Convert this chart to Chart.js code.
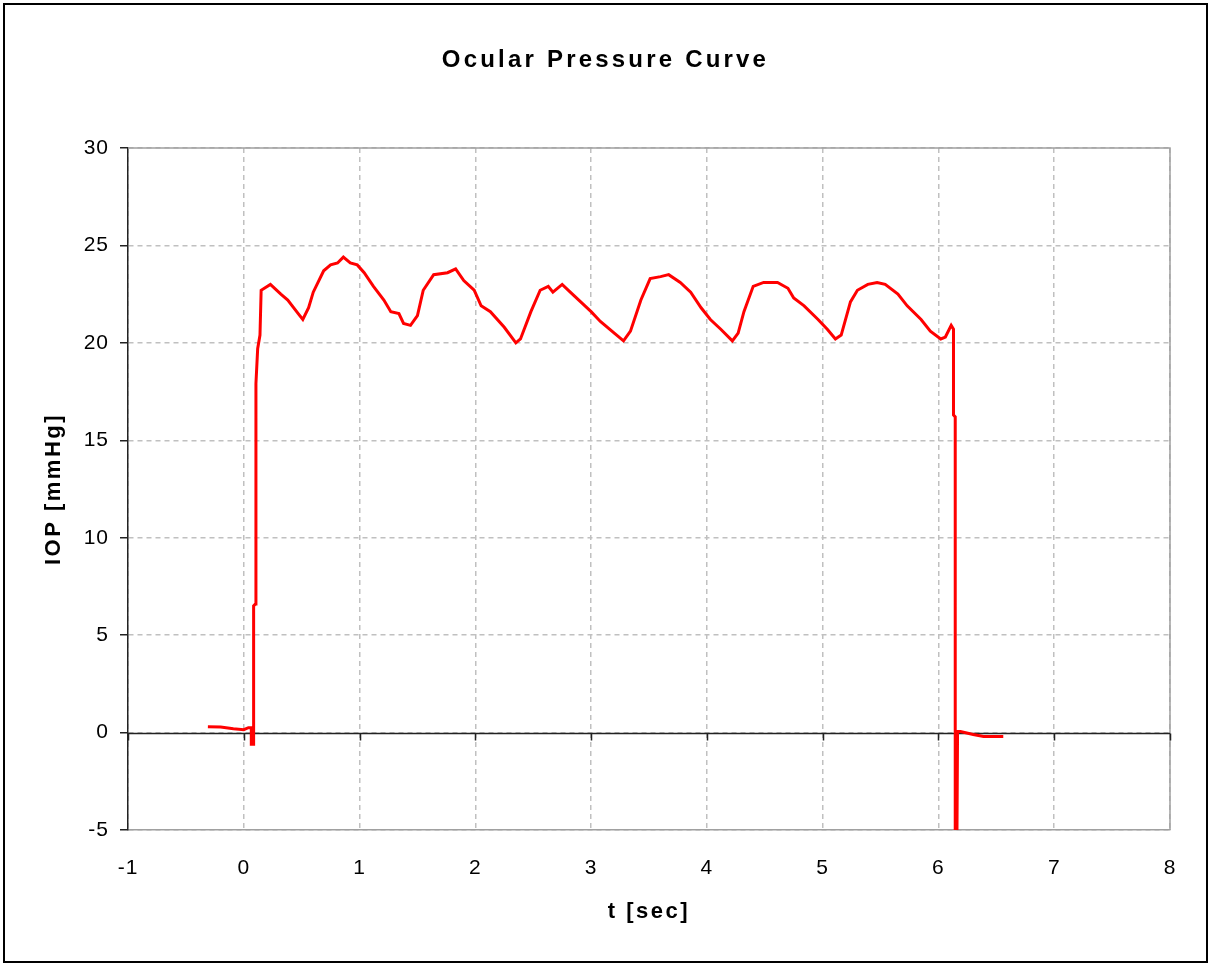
<!DOCTYPE html>
<html>
<head>
<meta charset="utf-8">
<title>Ocular Pressure Curve</title>
<script src="https://cdn.jsdelivr.net/npm/chart.js@4/dist/chart.umd.min.js"></script>
<style>
  body { margin: 0; background: #fff; }
  #iopChart { display: block; }
</style>
</head>
<body>
<canvas id="iopChart" width="1211" height="965"></canvas>
<script>
// IOP trace sampled from the tonometer recording
var timeSec = [
  -0.31, -0.20, -0.09, 0.00, 0.04, 0.065, 0.065, 0.08, 0.085, 0.10,
  0.105, 0.12, 0.14, 0.15, 0.23, 0.32, 0.38, 0.47, 0.51, 0.56,
  0.60, 0.69, 0.75, 0.81, 0.86, 0.92, 0.98, 1.04, 1.12, 1.21,
  1.27, 1.34, 1.38, 1.44, 1.50, 1.55, 1.64, 1.76, 1.83, 1.90,
  1.99, 2.05, 2.13, 2.25, 2.35, 2.39, 2.48, 2.56, 2.63, 2.67,
  2.75, 2.82, 2.91, 3.00, 3.08, 3.20, 3.28, 3.34, 3.43, 3.51,
  3.60, 3.67, 3.77, 3.86, 3.95, 4.03, 4.12, 4.22, 4.27, 4.32,
  4.40, 4.49, 4.61, 4.70, 4.75, 4.84, 4.96, 5.04, 5.11, 5.16,
  5.24, 5.30, 5.39, 5.47, 5.54, 5.65, 5.73, 5.85, 5.93, 6.02,
  6.06, 6.11, 6.13, 6.13, 6.145, 6.145, 6.16, 6.165, 6.19, 6.30,
  6.39, 6.56
];
var iopMmHg = [
  0.3, 0.28, 0.2, 0.15, 0.25, 0.25, -0.6, -0.6, 6.5, 6.6,
  17.9, 19.7, 20.4, 22.7, 23.0, 22.5, 22.2, 21.5, 21.2, 21.8,
  22.6, 23.7, 24.0, 24.1, 24.4, 24.1, 24.0, 23.6, 22.9, 22.2,
  21.6, 21.5, 21.0, 20.9, 21.4, 22.7, 23.5, 23.6, 23.8, 23.2,
  22.7, 21.9, 21.6, 20.8, 20.0, 20.2, 21.6, 22.7, 22.9, 22.6,
  23.0, 22.6, 22.1, 21.6, 21.1, 20.5, 20.1, 20.6, 22.2, 23.3,
  23.4, 23.5, 23.1, 22.6, 21.8, 21.2, 20.7, 20.1, 20.5, 21.6,
  22.9, 23.1, 23.1, 22.8, 22.3, 21.9, 21.2, 20.7, 20.2, 20.4,
  22.1, 22.7, 23.0, 23.1, 23.0, 22.5, 21.9, 21.2, 20.6, 20.2,
  20.3, 20.9, 20.7, 16.3, 16.2, -5, -5, 0.05, 0.05, -0.1,
  -0.2, -0.2
];

var xMin = -1, xMax = 8, xStep = 1;
var yMin = -5, yMax = 30, yStep = 5;

var points = timeSec.map(function(t, i) {
  return { x: t, y: iopMmHg[i] };
});

var FONT = '"Liberation Sans", Arial, sans-serif';
var ctx = document.getElementById("iopChart").getContext("2d");

// old spreadsheet text is spaced wider than the canvas default
function spacingFor(font) {
  if (font.indexOf("bold 24px") === 0) return "3.2px";
  if (font.indexOf("bold") === 0) return "2.5px";
  return "1px";
}
["fillText", "measureText"].forEach(function(name) {
  var orig = ctx[name];
  ctx[name] = function() {
    this.letterSpacing = spacingFor(this.font);
    return orig.apply(this, arguments);
  };
});

// plot frame, zero line with its ticks, and the outer border
var framePlugin = {
  id: "frame",
  beforeDatasetsDraw: function(chart) {
    var c = chart.ctx, a = chart.chartArea;
    var xs = chart.scales.x, ys = chart.scales.y;
    c.save();
    c.setLineDash([]);
    c.strokeStyle = "#a0a0a0";
    c.lineWidth = 1.5;
    c.beginPath();
    c.moveTo(a.left, a.top);
    c.lineTo(a.right, a.top);
    c.lineTo(a.right, a.bottom);
    c.stroke();

    var y0 = Math.round(ys.getPixelForValue(0)) + 0.5;
    c.strokeStyle = "#222";
    c.lineWidth = 1.5;
    c.beginPath();
    c.moveTo(a.left, y0);
    c.lineTo(a.right, y0);
    for (var v = xMin; v <= xMax; v += xStep) {
      var px = Math.round(xs.getPixelForValue(v)) + 0.5;
      c.moveTo(px, y0);
      c.lineTo(px, y0 + 7);
    }
    c.stroke();
    c.restore();
  },
  afterDraw: function(chart) {
    var c = chart.ctx;
    c.save();
    c.strokeStyle = "#000";
    c.lineWidth = 2;
    c.strokeRect(4, 4, chart.width - 8, chart.height - 7);
    c.restore();
  }
};

var iopChart = new Chart(ctx, {
  type: "line",
  data: {
    datasets: [
      {
        data: points,
        borderColor: "#ff0000",
        borderWidth: 3,
        pointRadius: 0,
        tension: 0,
        fill: false
      }
    ]
  },
  options: {
    responsive: false,
    animation: false,
    layout: { padding: { top: 0, right: 41, bottom: 0, left: 41 } },
    plugins: {
      legend: { display: false },
      tooltip: { enabled: false },
      title: {
        display: true,
        text: "Ocular Pressure Curve",
        color: "#000",
        font: { family: FONT, size: 24, weight: "bold" },
        padding: { top: 45.6, bottom: 73.6 }
      }
    },
    scales: {
      x: {
        type: "linear",
        min: xMin,
        max: xMax,
        afterFit: function(scale) { scale.height = 135; },
        ticks: {
          stepSize: xStep,
          color: "#000",
          padding: 26,
          font: { family: FONT, size: 21 }
        },
        grid: {
          color: "#c0c0c0",
          lineWidth: 1.5,
          drawTicks: false
        },
        border: { display: true, color: "#a0a0a0", width: 1.5, dash: [5, 4] },
        title: {
          display: true,
          text: "t [sec]",
          color: "#000",
          font: { family: FONT, size: 22, weight: "bold" },
          padding: { top: 0, bottom: 40 }
        }
      },
      y: {
        min: yMin,
        max: yMax,
        afterFit: function(scale) { scale.width = 87; },
        ticks: {
          stepSize: yStep,
          color: "#000",
          padding: 11,
          font: { family: FONT, size: 21 }
        },
        grid: {
          color: "#c0c0c0",
          lineWidth: 1.5,
          tickLength: 8,
          tickColor: "#222",
          tickWidth: 1.5
        },
        border: { display: true, color: "#222", width: 1.5, dash: [5, 4] },
        title: {
          display: true,
          text: "IOP [mmHg]",
          color: "#000",
          font: { family: FONT, size: 22, weight: "bold" },
          padding: { top: 0, bottom: 0 }
        }
      }
    }
  },
  plugins: [framePlugin]
});
</script>
</body>
</html>
